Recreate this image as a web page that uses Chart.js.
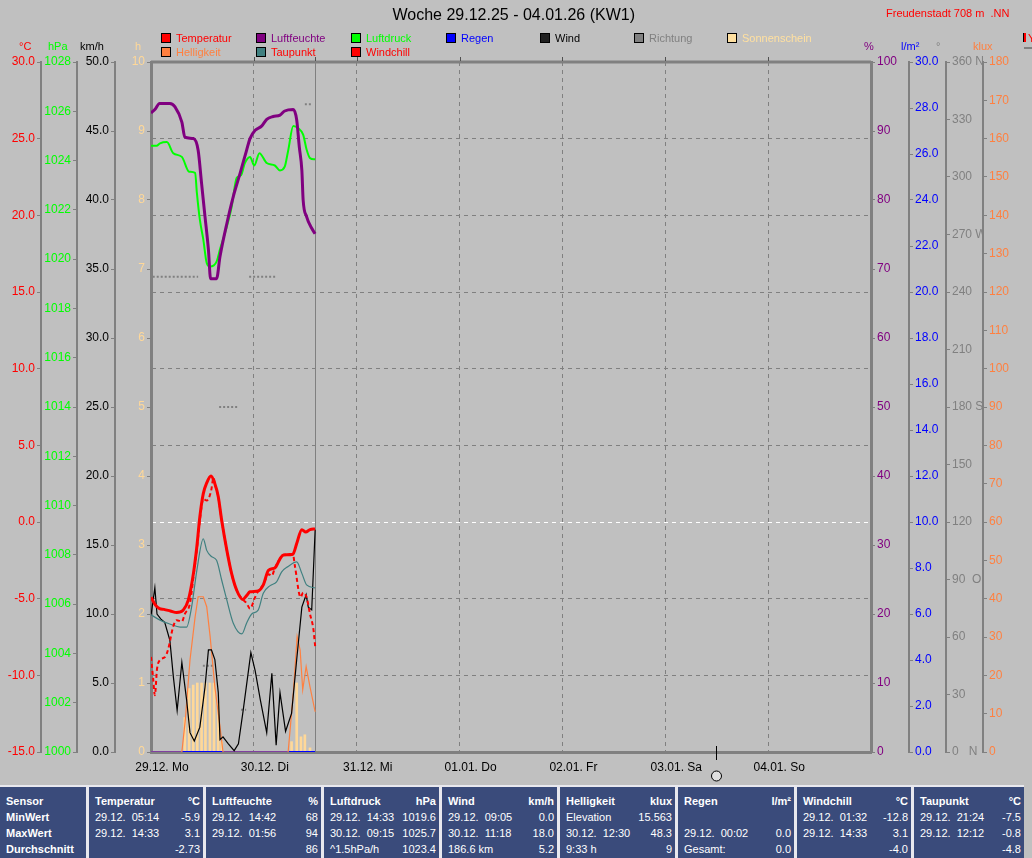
<!DOCTYPE html>
<html>
<head>
<meta charset="utf-8">
<script src="https://cdn.jsdelivr.net/npm/chart.js@4.4.1/dist/chart.umd.min.js"></script>
<style>
body { margin: 0; background: #c0c0c0; font-family: "Liberation Sans", Arial, sans-serif; }
#wrap { position: relative; width: 1032px; height: 858px; overflow: hidden; background: #c0c0c0; }
#chart { position: absolute; left: 0; top: 0; }
.t { position: absolute; white-space: pre; font-size: 11px; line-height: 12px; }
.box { position: absolute; width: 8px; height: 8px; border: 1px solid #000; }
#tbl { position: absolute; left: 0; top: 785px; width: 1024px; height: 73px; background: #e8e8ee; }
.col { position: absolute; top: 2px; height: 71px; background: #3a4b7b; color: #fff; font-size: 11px; }
.row { position: absolute; left: 6px; right: 3px; height: 16px; line-height: 16px; white-space: pre; }
.row span { position: absolute; right: 0; top: 0; }
.b { font-weight: bold; }
</style>
</head>
<body>
<div id="wrap">
  <canvas id="chart" width="1032" height="786"></canvas>
  <div id="tbl"></div>
</div>
<script>
// hours since 29.12. 00:00
const dayLabels = ["29.12. Mo", "30.12. Di", "31.12. Mi", "01.01. Do", "02.01. Fr", "03.01. Sa", "04.01. So"];
const nowHour = 38.27;
const moonHour = 131.8;

const tempHours = [0, 1, 2, 3, 4.5, 6, 7.5, 8.7, 9.9, 10.7, 11.4, 12.2, 13, 14, 14.9, 15.7, 16.5, 17.7, 18.8, 20, 21.4, 22.3, 23.1, 25, 26.2, 27.4, 28.9, 30.1, 30.9, 33.1, 34, 35.2, 36.1, 37.1, 38.3];
const tempValues = [-4.9, -5.4, -5.65, -5.7, -5.8, -5.9, -5.75, -5.1, -3.35, -1.6, 0.35, 1.85, 2.55, 3.0, 2.5, 1.65, 0.1, -1.85, -3.35, -4.45, -5.05, -4.8, -4.55, -4.5, -4.1, -3.15, -3.0, -2.4, -2.15, -2.1, -1.4, -0.5, -0.65, -0.5, -0.45];

const humHours = [0, 1, 2, 4.4, 5.6, 7.2, 7.9, 9.9, 11, 11.8, 12.6, 13.4, 13.9, 15.3, 16.1, 17.7, 19.2, 20.8, 22.3, 23.1, 24.3, 25.8, 27, 28.5, 30.1, 31.2, 33.2, 34, 34.6, 35.2, 35.5, 36.3, 37.5, 38.3];
const humValues = [92.6, 93.2, 94, 94, 93.5, 91.3, 89.1, 88.9, 87.2, 82.4, 77.6, 72.8, 68.6, 68.6, 71.8, 76.6, 80.5, 83.9, 87.2, 88.9, 90.1, 90.7, 91.7, 92.1, 92.3, 92.9, 93.1, 91.6, 87.7, 84.3, 80, 77.6, 75.9, 75.1];

const pressHours = [0, 1.3, 2.1, 3.7, 5.2, 7.2, 8.9, 10.3, 10.7, 11.4, 12.2, 13, 13.8, 15.3, 16.1, 17.5, 18.8, 20, 21, 21.9, 23.1, 24.1, 25.3, 27, 28.9, 30.1, 31.2, 32, 33.2, 34.4, 35.5, 36.3, 37.1, 38.3];
const pressValues = [1024.6, 1024.6, 1024.7, 1024.75, 1024.3, 1024.15, 1023.55, 1023.5, 1022.7, 1021.6, 1020.8, 1019.85, 1019.7, 1019.9, 1020.4, 1021.2, 1022.1, 1023.3, 1023.4, 1023.9, 1024.15, 1023.8, 1024.3, 1023.9, 1023.8, 1023.6, 1023.75, 1024.4, 1025.4, 1025.3, 1025.05, 1024.45, 1024.1, 1024.05];

const dewHours = [0, 2.1, 4.4, 6.8, 8.3, 9.5, 10.7, 12.2, 13, 14.1, 15.3, 16.5, 17.7, 19.2, 21.2, 22.3, 23.5, 25, 26.2, 27.8, 29.3, 30.5, 32, 34, 35.2, 36.3, 38.3];
const dewValues = [-6.05, -6.4, -6.65, -6.85, -6.85, -5.5, -3.15, -1.1, -1.85, -2.25, -2.5, -3.8, -5.1, -6.6, -7.3, -6.6, -6.0, -5.75, -4.65, -4.15, -3.9, -3.25, -2.9, -2.6, -3.35, -4.1, -4.3];

const chillHours = [0, 0.5, 0.9, 1.4, 2.1, 3.3, 4.0, 5.2, 6.0, 7.2, 7.9, 9.1, 9.9, 10.7, 11.4, 12.2, 13.0, 14.0, 14.6, 14.9, 15.7, 16.5, 17.7, 18.8, 20.0, 21.4, 22.3, 23.1, 24.3, 25.0, 26.2, 27.4, 28.2, 28.9, 30.1, 30.9, 33.1, 33.6, 34.9, 35.5, 36.3, 37.1, 37.9, 38.3];
const chillValues = [-8.8, -10.2, -11.3, -9.6, -9.0, -8.8, -8.3, -6.8, -6.4, -6.5, -6.0, -5.3, -3.6, -1.8, 0.1, 1.5, 1.4, 2.0, 2.9, 2.5, 1.65, 0.1, -1.85, -3.35, -4.45, -5.05, -5.3, -5.65, -4.9, -4.5, -4.1, -3.4, -3.5, -3.0, -2.4, -2.15, -2.1, -2.9, -4.9, -4.6, -4.9, -6.0, -7.0, -8.1];

const windHours = [0, 0.9, 1.4, 2.4, 3.2, 4.4, 5.2, 6.1, 7.2, 8.3, 9.1, 10.1, 11.4, 12.6, 13.4, 14.1, 14.9, 15.7, 16.1, 16.8, 18.0, 19.4, 20.4, 21.5, 23.3, 24.3, 25.5, 27.0, 28.2, 29.2, 30.1, 31.4, 32.8, 34.0, 35.2, 36.2, 36.7, 37.5, 38.0, 38.3];
const windValues = [9.9, 11.9, 10.0, 9.6, 9.4, 8.1, 5.5, 3.0, 6.5, 3.8, 1.4, 0.8, 1.8, 4.7, 7.4, 7.4, 6.7, 4.3, 0.9, 1.1, 0.6, 0.1, 0.6, 3.0, 7.2, 5.9, 3.8, 1.4, 5.7, 0.5, 4.3, 1.5, 2.8, 6.7, 10.5, 11.4, 10.5, 10.3, 13.9, 16.1];

const luxHours = [0, 7.2, 8.0, 9.1, 10.3, 11.0, 12.2, 13.0, 13.8, 14.9, 16.1, 16.8, 32.0, 33.2, 34.1, 34.8, 35.4, 36.2, 37.1, 38.3];
const luxValues = [0, 0, 8.3, 24, 35.3, 40.5, 40.5, 37.9, 30.1, 17, 6.6, 0, 0, 15.3, 30.1, 26.6, 16.2, 22.3, 17, 10.5];

// wind direction, null = gap
const dirHours = [0.4, 11.0, 11.5, 12.1, 14.5, 15.2, 15.9, 20.3, 20.6, 21.0, 22.2, 22.5, 22.9, 29.4, 30, 35.9, 37.6];
const dirValues = [248, 248, null, 45, 45, null, 180, 180, null, 22, 22, null, 248, 248, null, 338, 338];

const sunHours = [7.9, 8.9, 9.85, 10.8, 11.8, 12.7, 13.75, 14.7, 15.7, 16.5, 32.8, 34.0, 35.0, 35.9, 37.1];
const sunValues = [0.5, 0.92, 0.97, 1, 1, 1, 1, 1, 0.7, 0.15, 0.15, 1.0, 0.22, 0.25, 0.06];

const rainHours = [0, 38.3];
const rainValues = [0, 0];

const dirNames = { 360: "360 N", 270: "270 W", 180: "180 S", 90: "90  O", 0: "0   N" };

const pts = (xs, ys) => xs.map((x, i) => ({ x: x, y: ys[i] }));

Chart.defaults.font.family = '"Liberation Sans", Arial, sans-serif';
Chart.defaults.font.size = 12;

function yAxis(pos, weight, min, max, step, color, width, fmt) {
    return {
        type: "linear", position: pos, weight: weight, min: min, max: max,
        afterFit: s => { s.width = width; },
        ticks: { stepSize: step, color: color, padding: 2, autoSkip: false, callback: fmt },
        grid: { drawOnChartArea: false, drawTicks: true, tickLength: 4, tickColor: "#808080" },
        border: { display: true, color: "#808080", width: 2 }
    };
}

const tickVal = c => (c && c.tick) ? c.tick.value : null;

const scales = {
    x: {
        type: "linear", position: "bottom", min: 0, max: 168, offset: false,
        afterFit: s => { s.height = 34; },
        ticks: { stepSize: 24, color: "#000", padding: 8, maxRotation: 0, autoSkip: false, labelOffset: 11,
            callback: v => dayLabels[v / 24] || "" },
        grid: { offset: false, drawOnChartArea: true, drawTicks: false,
            color: c => (tickVal(c) === 0 || tickVal(c) === 168) ? "rgba(0,0,0,0)" : "#808080" },
        border: { display: true, color: "#808080", width: 3, dash: [4, 4] }
    },
    ySun: yAxis("left", 0, 0, 10, 1, "#ffd898", 36, v => v),
    yWind: yAxis("left", 1, 0, 50, 5, "#000000", 38, v => v.toFixed(1)),
    yPress: yAxis("left", 2, 1000, 1028, 2, "#00ff00", 36, v => v),
    yTemp: yAxis("left", 3, -15, 30, 5, "#ff0000", 41, v => v.toFixed(1)),
    yHum: yAxis("right", 0, 0, 100, 10, "#800080", 38, v => v),
    yRain: yAxis("right", 1, 0, 30, 2, "#0000ff", 37, v => v.toFixed(1)),
    yDir: yAxis("right", 2, 0, 360, 30, "#808080", 37, v => dirNames[v] || v),
    yLux: yAxis("right", 3, 0, 180, 10, "#ff8040", 49, v => v)
};
scales.ySun.border.width = 3;
scales.yHum.border.width = 3;
scales.yTemp.grid.drawOnChartArea = true;
scales.yTemp.grid.color = c => tickVal(c) === 0 ? "#ffffff" :
    ((tickVal(c) === 30 || tickVal(c) === -15) ? "rgba(0,0,0,0)" : "#808080");
scales.yTemp.border.dash = [4, 4];

const framePlugin = {
    id: "frame",
    beforeDatasetsDraw(chart) {
        const ctx = chart.ctx, a = chart.chartArea, sx = chart.scales.x;
        ctx.save();
        ctx.strokeStyle = "#808080";
        ctx.lineWidth = 3;
        ctx.beginPath(); ctx.moveTo(a.left, a.top); ctx.lineTo(a.right, a.top); ctx.stroke();
        const nx = Math.round(sx.getPixelForValue(nowHour)) + 0.5;
        ctx.lineWidth = 1;
        ctx.beginPath(); ctx.moveTo(nx, a.top); ctx.lineTo(nx, a.bottom); ctx.stroke();
        ctx.strokeStyle = "#505050";
        [24, 48, 72, 96, 120, 144, nowHour].forEach(h => {
            const x = Math.round(sx.getPixelForValue(h)) + 0.5;
            ctx.beginPath(); ctx.moveTo(x, a.top - 5); ctx.lineTo(x, a.top - 1); ctx.stroke();
        });
        ctx.restore();
    },
    afterDraw(chart) {
        // moon phase marker
        const ctx = chart.ctx, a = chart.chartArea;
        const mx = Math.round(chart.scales.x.getPixelForValue(moonHour)) + 0.5;
        ctx.save();
        ctx.strokeStyle = "#000";
        ctx.lineWidth = 1;
        ctx.beginPath(); ctx.moveTo(mx, a.bottom - 6); ctx.lineTo(mx, a.bottom + 8); ctx.stroke();
        ctx.beginPath(); ctx.arc(mx, 776, 5, 0, Math.PI * 2);
        ctx.fillStyle = "#e0e0e0"; ctx.fill(); ctx.stroke();
        ctx.restore();
    }
};

const line = (label, xs, ys, color, width, axis, extra) => Object.assign({
    type: "line", label: label, data: pts(xs, ys), yAxisID: axis,
    borderColor: color, backgroundColor: color, borderWidth: width,
    pointRadius: 0, fill: false, cubicInterpolationMode: "monotone", spanGaps: false
}, extra || {});

new Chart(document.getElementById("chart"), {
    type: "line",
    data: {
        datasets: [
            line("Temperatur", tempHours, tempValues, "#ff0000", 3, "yTemp"),
            line("Luftfeuchte", humHours, humValues, "#800080", 3, "yHum"),
            line("Luftdruck", pressHours, pressValues, "#00ff00", 2, "yPress"),
            line("Windchill", chillHours, chillValues, "#ff0000", 2, "yTemp", { borderDash: [4, 3] }),
            line("Taupunkt", dewHours, dewValues, "#408080", 1.2, "yTemp"),
            line("Wind", windHours, windValues, "#000000", 1.2, "yWind", { cubicInterpolationMode: "default", tension: 0 }),
            line("Helligkeit", luxHours, luxValues, "#ff8040", 1.2, "yLux", { cubicInterpolationMode: "default", tension: 0 }),
            line("Richtung", dirHours, dirValues, "#808080", 2, "yDir", { borderDash: [2, 2], cubicInterpolationMode: "default", tension: 0 }),
            line("Regen", rainHours, rainValues, "#0000ff", 2, "yRain"),
            { type: "bar", label: "Sonnenschein", data: pts(sunHours, sunValues), yAxisID: "ySun",
              backgroundColor: "#ffd898", borderWidth: 0, barThickness: 2 }
        ]
    },
    options: {
        responsive: false,
        animation: false,
        devicePixelRatio: 1,
        layout: { padding: { top: 62, left: 0, right: 0, bottom: 0 } },
        plugins: { legend: { display: false }, tooltip: { enabled: false } },
        scales: scales
    },
    plugins: [framePlugin]
});

// texts round the chart
const wrap = document.getElementById("wrap");
function text(str, x, y, color, size, align, bold) {
    const d = document.createElement("div");
    d.className = "t";
    d.textContent = str;
    d.style.color = color;
    d.style.fontSize = size + "px";
    d.style.lineHeight = (size + 2) + "px";
    d.style.top = (y - (size + 2) / 2) + "px";
    if (bold) d.style.fontWeight = "bold";
    wrap.appendChild(d);
    if (align === "center") d.style.left = (x - d.offsetWidth / 2) + "px";
    else if (align === "right") d.style.left = (x - d.offsetWidth) + "px";
    else d.style.left = x + "px";
    return d;
}

text("Woche 29.12.25 - 04.01.26 (KW1)", 514, 15, "#000", 16, "center");
text("Freudenstadt 708 m  .NN", 1010, 13, "#ff0000", 11, "right");

const legendItems = [
    ["Temperatur", "#ff0000", "#ff0000", 161, 38],
    ["Luftfeuchte", "#800080", "#800080", 256, 38],
    ["Luftdruck", "#00ff00", "#00ff00", 351, 38],
    ["Regen", "#0000ff", "#0000ff", 446, 38],
    ["Wind", "#202020", "#000000", 540, 38],
    ["Richtung", "#808080", "#808080", 634, 38],
    ["Sonnenschein", "#ffe0a0", "#ffe0a0", 727, 38],
    ["Helligkeit", "#ff8040", "#ff8040", 161, 52],
    ["Taupunkt", "#408080", "#ff0000", 256, 52],
    ["Windchill", "#ff0000", "#ff0000", 351, 52]
];
legendItems.forEach(it => {
    const b = document.createElement("div");
    b.className = "box";
    b.style.background = it[1];
    b.style.left = it[3] + "px";
    b.style.top = (it[4] - 5) + "px";
    wrap.appendChild(b);
    text(it[0], it[3] + 15, it[4], it[2], 11, "left");
});

// cut-off item at the right edge
const cut = document.createElement("div");
cut.style.cssText = "position:absolute;left:1023px;top:33px;width:2px;height:9px;background:#ff0000;border-left:1px solid #000;";
wrap.appendChild(cut);
text("Y", 1028, 38, "#ff0000", 11, "left");
const cutLine = document.createElement("div");
cutLine.style.cssText = "position:absolute;left:1024px;top:47px;width:8px;height:2px;background:#808080;";
wrap.appendChild(cutLine);

const axisHeads = [
    ["°C", 25, "#ff0000"], ["hPa", 58, "#00ff00"], ["km/h", 92, "#000000"], ["h", 138, "#ffd898"],
    ["%", 869, "#800080"], ["l/m²", 910, "#0000ff"], ["°", 938, "#808080"], ["klux", 983, "#ff8040"]
];
axisHeads.forEach(h => text(h[0], h[1], 46, h[2], 11, "center"));

// statistics table
const tableCols = [
    { x: 0, w: 86, rows: [["Sensor", ""], ["MinWert", ""], ["MaxWert", ""], ["Durchschnitt", ""]] },
    { x: 89, w: 114, rows: [["Temperatur", "°C"], ["29.12.  05:14", "-5.9"], ["29.12.  14:33", "3.1"], ["", "-2.73"]] },
    { x: 206, w: 115, rows: [["Luftfeuchte", "%"], ["29.12.  14:42", "68"], ["29.12.  01:56", "94"], ["", "86"]] },
    { x: 324, w: 115, rows: [["Luftdruck", "hPa"], ["29.12.  14:33", "1019.6"], ["30.12.  09:15", "1025.7"], ["^1.5hPa/h", "1023.4"]] },
    { x: 442, w: 115, rows: [["Wind", "km/h"], ["29.12.  09:05", "0.0"], ["30.12.  11:18", "18.0"], ["186.6 km", "5.2"]] },
    { x: 560, w: 115, rows: [["Helligkeit", "klux"], ["Elevation", "15.563"], ["30.12.  12:30", "48.3"], ["9:33 h", "9"]] },
    { x: 678, w: 116, rows: [["Regen", "l/m²"], ["", ""], ["29.12.  00:02", "0.0"], ["Gesamt:", "0.0"]] },
    { x: 797, w: 114, rows: [["Windchill", "°C"], ["29.12.  01:32", "-12.8"], ["29.12.  14:33", "3.1"], ["", "-4.0"]] },
    { x: 914, w: 110, rows: [["Taupunkt", "°C"], ["29.12.  21:24", "-7.5"], ["29.12.  12:12", "-0.8"], ["", "-4.8"]] }
];
const tbl = document.getElementById("tbl");
tableCols.forEach((c, ci) => {
    const col = document.createElement("div");
    col.className = "col";
    col.style.left = c.x + "px";
    col.style.width = c.w + "px";
    c.rows.forEach((r, ri) => {
        const row = document.createElement("div");
        row.className = "row" + ((ri === 0 || ci === 0) ? " b" : "");
        row.style.top = (6 + ri * 16) + "px";
        row.textContent = r[0];
        const s = document.createElement("span");
        s.textContent = r[1];
        row.appendChild(s);
        col.appendChild(row);
    });
    tbl.appendChild(col);
});
</script>
</body>
</html>
